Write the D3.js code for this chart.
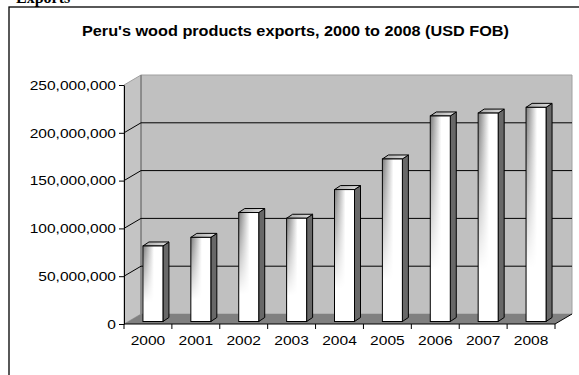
<!DOCTYPE html>
<html>
<head>
<meta charset="utf-8">
<script src="https://cdn.jsdelivr.net/npm/d3@7"></script>
<style>
  body { margin: 0; background: #fff; }
  svg { display: block; }
  .axis text { font-family: "Liberation Sans", Arial, sans-serif; font-size: 13.5px; fill: #000; }
</style>
</head>
<body>
<div id="vis"></div>
<script>
// chart data
var years = ['2000', '2001', '2002', '2003', '2004', '2005', '2006', '2007', '2008'];
var exportsUsd = [79e6, 88e6, 114e6, 108e6, 138e6, 170e6, 215e6, 218e6, 224e6];
var yTicks = [0, 50e6, 100e6, 150e6, 200e6, 250e6];
var chartTitle = "Peru's wood products exports, 2000 to 2008 (USD FOB)";

var width = 579;
var height = 375;

// front plane of the 3d box
var x0 = 124, x1 = 555;
var yBottom = 324, yTop = 85;
// depth of the box (back wall offset)
var depth = { dx: 17, dy: -10 };
// bars sit a little behind the front plane
var barShift = { dx: 5, dy: -2.5 };
var barDepth = { dx: 6, dy: -4 };
var barWidth = 20;

var svg = d3.select('#vis').append('svg')
  .attr('width', width)
  .attr('height', height);

var defs = svg.append('defs');

// front face: grey on the upper left, fading to white
var hGrad = defs.append('linearGradient')
  .attr('id', 'frontH')
  .attr('x1', 0).attr('y1', 0).attr('x2', 1).attr('y2', 0);
hGrad.append('stop').attr('offset', 0).attr('stop-color', '#7a7a7a');
hGrad.append('stop').attr('offset', 0.55).attr('stop-color', '#ffffff');
hGrad.append('stop').attr('offset', 1).attr('stop-color', '#ffffff');

var vGrad = defs.append('linearGradient')
  .attr('id', 'fadeV')
  .attr('x1', 0).attr('y1', 0).attr('x2', 0).attr('y2', 1);
vGrad.append('stop').attr('offset', 0).attr('stop-color', '#fff');
vGrad.append('stop').attr('offset', 0.75).attr('stop-color', '#000');

var topGrad = defs.append('linearGradient')
  .attr('id', 'topFace')
  .attr('x1', 0).attr('y1', 0).attr('x2', 1).attr('y2', 0);
topGrad.append('stop').attr('offset', 0).attr('stop-color', '#a8a8a8');
topGrad.append('stop').attr('offset', 1).attr('stop-color', '#e0e0e0');

// page text cut off above the chart
svg.append('text')
  .attr('x', 16)
  .attr('y', 3)
  .attr('font-family', '"Liberation Serif", "Times New Roman", serif')
  .attr('font-size', 16)
  .attr('font-weight', 'bold')
  .text('Exports');

// chart frame
svg.append('rect')
  .attr('x', 9)
  .attr('y', 7)
  .attr('width', 600)
  .attr('height', 420)
  .attr('fill', '#fff')
  .attr('stroke', '#000')
  .attr('stroke-width', 1.3);

svg.append('text')
  .attr('x', 82)
  .attr('y', 36)
  .attr('font-family', '"Liberation Sans", Arial, sans-serif')
  .attr('font-size', 14)
  .attr('font-weight', 'bold')
  .attr('textLength', 427)
  .attr('lengthAdjust', 'spacingAndGlyphs')
  .text(chartTitle);

// scales
var x = d3.scaleBand()
  .domain(years)
  .range([x0, x1]);

var y = d3.scaleLinear()
  .domain([0, 250e6])
  .range([yBottom, yTop]);

function pts(arr) {
  return arr.map(function(p) { return p.join(','); }).join(' ');
}

// widen axis labels a little, like the stretched originals
function stretch(sel, k) {
  sel.each(function() {
    var w = this.getComputedTextLength();
    d3.select(this)
      .attr('textLength', w * k)
      .attr('lengthAdjust', 'spacingAndGlyphs');
  });
}

var g = svg.append('g');

// back wall
g.append('polygon')
  .attr('points', pts([
    [x0 + depth.dx, yTop + depth.dy], [x1 + depth.dx, yTop + depth.dy],
    [x1 + depth.dx, yBottom + depth.dy], [x0 + depth.dx, yBottom + depth.dy]
  ]))
  .attr('fill', '#c0c0c0')
  .attr('stroke', '#a0a0a0');

// side wall
g.append('polygon')
  .attr('points', pts([
    [x0, yTop], [x0 + depth.dx, yTop + depth.dy],
    [x0 + depth.dx, yBottom + depth.dy], [x0, yBottom]
  ]))
  .attr('fill', '#c4c4c4')
  .attr('stroke', '#a0a0a0');

// floor
g.append('polygon')
  .attr('points', pts([
    [x0, yBottom], [x0 + depth.dx, yBottom + depth.dy],
    [x1 + depth.dx, yBottom + depth.dy], [x1, yBottom]
  ]))
  .attr('fill', '#808080');

// corner between side wall and back wall
g.append('line')
  .attr('x1', x0 + depth.dx).attr('x2', x0 + depth.dx)
  .attr('y1', yTop + depth.dy).attr('y2', yBottom + depth.dy)
  .attr('stroke', '#808080')
  .attr('stroke-width', 1.5);

// gridlines
var grid = yTicks.filter(function(d) { return d > 0 && d < 250e6; });
g.selectAll('.grid-back')
  .data(grid)
  .enter().append('line')
  .attr('class', 'grid-back')
  .attr('x1', x0 + depth.dx).attr('x2', x1 + depth.dx)
  .attr('y1', function(d) { return y(d) + depth.dy; })
  .attr('y2', function(d) { return y(d) + depth.dy; })
  .attr('stroke', '#000');

g.selectAll('.grid-side')
  .data(grid)
  .enter().append('line')
  .attr('class', 'grid-side')
  .attr('x1', x0).attr('x2', x0 + depth.dx)
  .attr('y1', function(d) { return y(d); })
  .attr('y2', function(d) { return y(d) + depth.dy; })
  .attr('stroke', '#000');

// bars
var bars = g.selectAll('.bar')
  .data(years)
  .enter().append('g')
  .attr('class', 'bar');

function frontX(d) {
  return x(d) + x.bandwidth() / 2 + barShift.dx - barWidth / 2;
}
function frontTop(d, i) { return y(exportsUsd[i]) + barShift.dy; }
function frontBottom() { return y(0) + barShift.dy; }

// side face
bars.append('polygon')
  .attr('points', function(d, i) {
    var xr = frontX(d) + barWidth;
    return pts([
      [xr, frontTop(d, i)], [xr + barDepth.dx, frontTop(d, i) + barDepth.dy],
      [xr + barDepth.dx, frontBottom() + barDepth.dy], [xr, frontBottom()]
    ]);
  })
  .attr('fill', '#686868')
  .attr('stroke', '#000')
  .attr('stroke-linejoin', 'round');

// top face
bars.append('polygon')
  .attr('points', function(d, i) {
    var xl = frontX(d), t = frontTop(d, i);
    return pts([
      [xl, t], [xl + barDepth.dx, t + barDepth.dy],
      [xl + barWidth + barDepth.dx, t + barDepth.dy], [xl + barWidth, t]
    ]);
  })
  .attr('fill', 'url(#topFace)')
  .attr('stroke', '#000')
  .attr('stroke-linejoin', 'round');

// front face: white base, grey shading masked by a vertical fade
bars.each(function(d, i) {
  var sel = d3.select(this);
  var bx = frontX(d), by = frontTop(d, i), bh = frontBottom() - frontTop(d, i);
  var maskId = 'fade' + i;
  defs.append('mask')
    .attr('id', maskId)
    .attr('maskUnits', 'userSpaceOnUse')
    .append('rect')
    .attr('x', bx).attr('y', by)
    .attr('width', barWidth).attr('height', bh)
    .attr('fill', 'url(#fadeV)');

  sel.append('rect')
    .attr('x', bx).attr('y', by)
    .attr('width', barWidth).attr('height', bh)
    .attr('fill', '#fff');

  sel.append('rect')
    .attr('x', bx).attr('y', by)
    .attr('width', barWidth).attr('height', bh)
    .attr('fill', 'url(#frontH)')
    .attr('mask', 'url(#' + maskId + ')');

  sel.append('rect')
    .attr('x', bx).attr('y', by)
    .attr('width', barWidth).attr('height', bh)
    .attr('fill', 'none')
    .attr('stroke', '#000');
});

// y axis
var yAxis = d3.axisLeft(y)
  .tickValues(yTicks)
  .tickFormat(d3.format(','))
  .tickSize(5)
  .tickPadding(3)
  .tickSizeOuter(0);

var ya = svg.append('g')
  .attr('class', 'y axis')
  .attr('transform', 'translate(' + x0 + ',0)')
  .call(yAxis);
ya.select('.domain').attr('stroke', '#000');
stretch(ya.selectAll('text'), 1.15);

// x axis: labels centred, ticks on the category boundaries
var xAxis = d3.axisBottom(x)
  .tickSize(0)
  .tickPadding(11);

var xa = svg.append('g')
  .attr('class', 'x axis')
  .attr('transform', 'translate(0,' + yBottom + ')')
  .call(xAxis);
xa.select('.domain').remove();
stretch(xa.selectAll('text'), 1.15);

xa.append('line')
  .attr('x1', x0).attr('x2', x1)
  .attr('y1', 0).attr('y2', 0)
  .attr('stroke', '#000');

var bounds = years.map(function(d) { return x(d); }).concat([x1]);
xa.selectAll('.bound')
  .data(bounds)
  .enter().append('line')
  .attr('class', 'bound')
  .attr('x1', function(d) { return d; })
  .attr('x2', function(d) { return d; })
  .attr('y1', 0).attr('y2', 5)
  .attr('stroke', '#000');

// right end of the floor edge
svg.append('line')
  .attr('x1', x1).attr('y1', yBottom)
  .attr('x2', x1 + depth.dx).attr('y2', yBottom + depth.dy)
  .attr('stroke', '#000');
</script>
</body>
</html>
